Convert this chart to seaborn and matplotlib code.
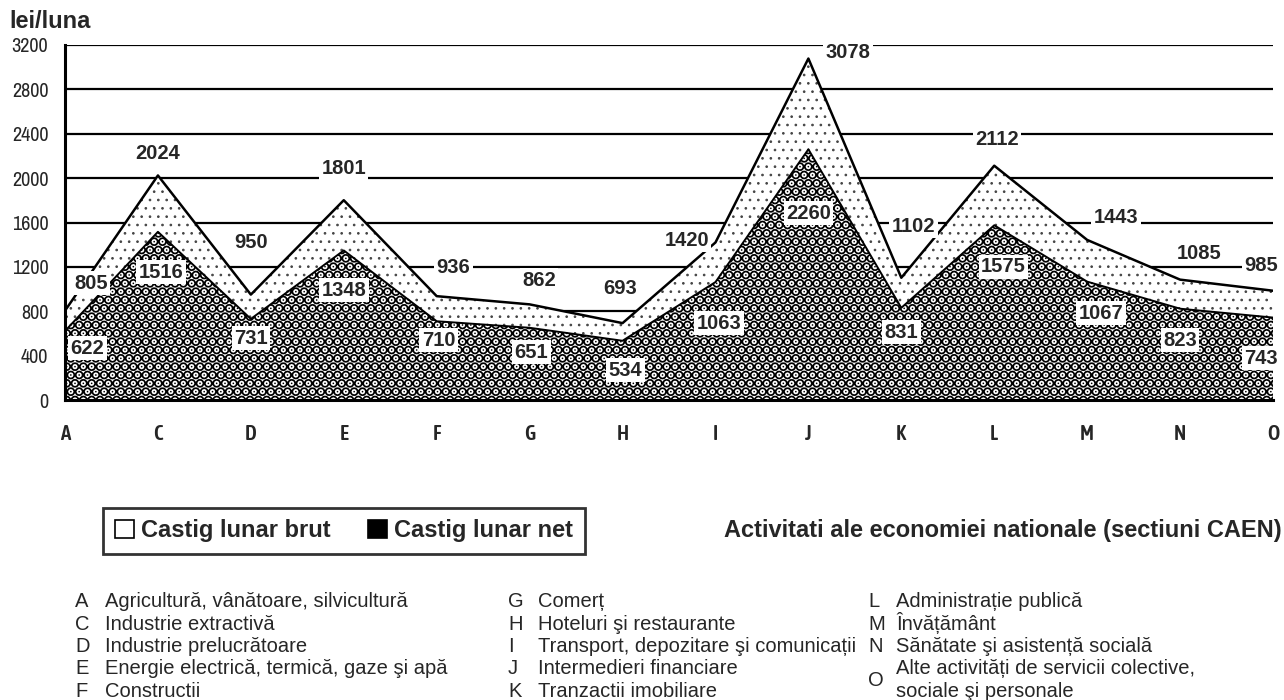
import matplotlib
matplotlib.use("Agg")
import matplotlib.pyplot as plt
from matplotlib import font_manager
from matplotlib.patches import Patch
import seaborn as sns
import pandas as pd

# ---------------- data ----------------
categories = ['A', 'C', 'D', 'E', 'F', 'G', 'H', 'I', 'J', 'K', 'L', 'M', 'N', 'O']
castig_brut = [805, 2024, 950, 1801, 936, 862, 693, 1420, 3078, 1102, 2112, 1443, 1085, 985]
castig_net = [622, 1516, 731, 1348, 710, 651, 534, 1063, 2260, 831, 1575, 1067, 823, 743]
y_ticks = [0, 400, 800, 1200, 1600, 2000, 2400, 2800, 3200]
codes_col1 = [('A', 'Agricultură, vânătoare, silvicultură'),
              ('C', 'Industrie extractivă'),
              ('D', 'Industrie prelucrătoare'),
              ('E', 'Energie electrică, termică, gaze şi apă'),
              ('F', 'Constructii')]
codes_col2 = [('G', 'Comerț'),
              ('H', 'Hoteluri şi restaurante'),
              ('I', 'Transport, depozitare şi comunicații'),
              ('J', 'Intermedieri financiare'),
              ('K', 'Tranzactii imobiliare')]
codes_col3 = [('L', 'Administrație publică'),
              ('M', 'Învățământ'),
              ('N', 'Sănătate şi asistență socială')]
code_O = ('O', 'Alte activități de servicii colective,\nsociale şi personale')

# label placement (layout only): x shift in category units, label y in data units
brut_dx = [0.28, 0.0, 0.0, 0.0, 0.18, 0.10, -0.03, -0.31, 0.43, 0.13, 0.03, 0.31, 0.20, -0.13]
brut_ly = [1053, 2223, 1422, 2088, 1197, 1080, 1008, 1440, 3132, 1566, 2349, 1647, 1323, 1215]
net_dx = [0.24, 0.03, 0.0, 0.0, 0.02, 0.02, 0.03, 0.04, 0.0, 0.0, 0.10, 0.15, 0.0, -0.13]
net_ly = [468, 1152, 558, 990, 540, 432, 270, 693, 1683, 612, 1200, 783, 540, 378]

# ---------------- style ----------------
sns.set_theme(style="white")
names = {f.name for f in font_manager.fontManager.ttflist}
base = 'Liberation Sans' if 'Liberation Sans' in names else 'DejaVu Sans'
narrow = 'Archivo Narrow' if 'Archivo Narrow' in names else base
cond = 'Asap Condensed' if 'Asap Condensed' in names else base
plt.rcParams['font.family'] = [base, 'DejaVu Sans']

fig = plt.figure(figsize=(12.84, 7.0), dpi=100)
ax = fig.add_axes([65 / 1284, 1 - 400 / 700, (1273 - 65) / 1284, (400 - 45) / 700])

df = pd.DataFrame({'cat': categories, 'x': range(len(categories)),
                   'brut': castig_brut, 'net': castig_net})

for y in y_ticks[1:]:
    ax.axhline(y, color='black', lw=1.6, zorder=0)

with plt.rc_context({'hatch.linewidth': 0.7}):
    pc1 = ax.fill_between(df['x'], df['net'], df['brut'], facecolor='white', edgecolor='#444444',
                          hatch='..', linewidth=0, zorder=1)
    if hasattr(pc1, 'set_hatch_linewidth'):
        pc1.set_hatch_linewidth(0.7)
with plt.rc_context({'hatch.linewidth': 5.0}):
    pc2 = ax.fill_between(df['x'], 0, df['net'], facecolor='white', edgecolor='black',
                          hatch='..', linewidth=0, zorder=2)
    if hasattr(pc2, 'set_hatch_linewidth'):
        pc2.set_hatch_linewidth(5.0)
sns.lineplot(data=df, x='x', y='brut', color='black', lw=1.8, ax=ax, zorder=3)
sns.lineplot(data=df, x='x', y='net', color='black', lw=1.4, ax=ax, zorder=3)

for i in range(len(categories)):
    ax.text(i + brut_dx[i], brut_ly[i], str(castig_brut[i]), ha='center', va='center',
            fontsize=14.5, fontweight='bold', zorder=5, clip_on=False,
            bbox=dict(boxstyle='square,pad=0.12', fc='white', ec='none'))
    ax.text(i + net_dx[i], net_ly[i], str(castig_net[i]), ha='center', va='center',
            fontsize=14.5, fontweight='bold', zorder=5, clip_on=False,
            bbox=dict(boxstyle='square,pad=0.12', fc='white', ec='none'))

ax.set_xlim(0, len(categories) - 1)
ax.set_ylim(0, 3200)
ax.set_xticks(range(len(categories)))
ax.set_xticklabels(categories, fontfamily=cond, fontweight=600, fontsize=15)
ax.set_yticks(y_ticks)
ax.set_yticklabels([str(v) for v in y_ticks], fontfamily=narrow, fontsize=14.5)
ax.tick_params(axis='both', direction='out', length=6, width=1.6, color='black')
ax.tick_params(axis='x', pad=11)
ax.tick_params(axis='y', pad=6)
ax.set_xlabel('')
ax.set_ylabel('')
for s in ['top', 'right']:
    ax.spines[s].set_visible(False)
for s in ['left', 'bottom']:
    ax.spines[s].set_color('black')
    ax.spines[s].set_linewidth(2.2)
    ax.spines[s].set_zorder(6)

fig.text(9 / 1284, 1 - 22 / 700, 'lei/luna', fontsize=17, fontweight='bold', ha='left', va='center')

handles = [Patch(facecolor='white', edgecolor='black', lw=1.2, label='Castig lunar brut'),
           Patch(facecolor='black', edgecolor='black', lw=1.2, label='Castig lunar net')]
leg = fig.legend(handles=handles, loc='center', bbox_to_anchor=((96 + 592) / 2 / 1284, 1 - 531 / 700),
                 ncol=2, frameon=True, fancybox=False, handlelength=0.8, handleheight=0.8,
                 handletextpad=0.3, columnspacing=1.6, borderpad=0.5,
                 prop={'weight': 'bold', 'size': 17})
leg.get_frame().set_edgecolor('black')
leg.get_frame().set_linewidth(2)

fig.text(1282 / 1284, 1 - 531 / 700, 'Activitati ale economiei nationale (sectiuni CAEN)',
         ha='right', va='center', fontsize=17, fontweight='bold')

rows_y = [600, 622.5, 645, 667.5, 690]
fs_list = 14.5
base_off = 7  # pixels from row centre to text baseline
def put_col(items, xl, xt):
    for (code, txt), yy in zip(items, rows_y):
        fig.text(xl / 1284, 1 - (yy + base_off) / 700, code, ha='left', va='baseline',
                 fontsize=fs_list)
        fig.text(xt / 1284, 1 - (yy + base_off) / 700, txt, ha='left', va='baseline',
                 fontsize=fs_list)
put_col(codes_col1, 75, 105)
put_col(codes_col2, 508, 538)
put_col(codes_col3, 868, 896)
fig.text(868 / 1284, 1 - (679 + base_off) / 700, code_O[0], ha='left', va='baseline',
         fontsize=fs_list)
fig.text(896 / 1284, 1 - (667.5 + base_off) / 700, code_O[1].split('\n')[0], ha='left',
         va='baseline', fontsize=fs_list)
fig.text(896 / 1284, 1 - (690 + base_off) / 700, code_O[1].split('\n')[1], ha='left',
         va='baseline', fontsize=fs_list)

fig.savefig('out.png', dpi=100)
